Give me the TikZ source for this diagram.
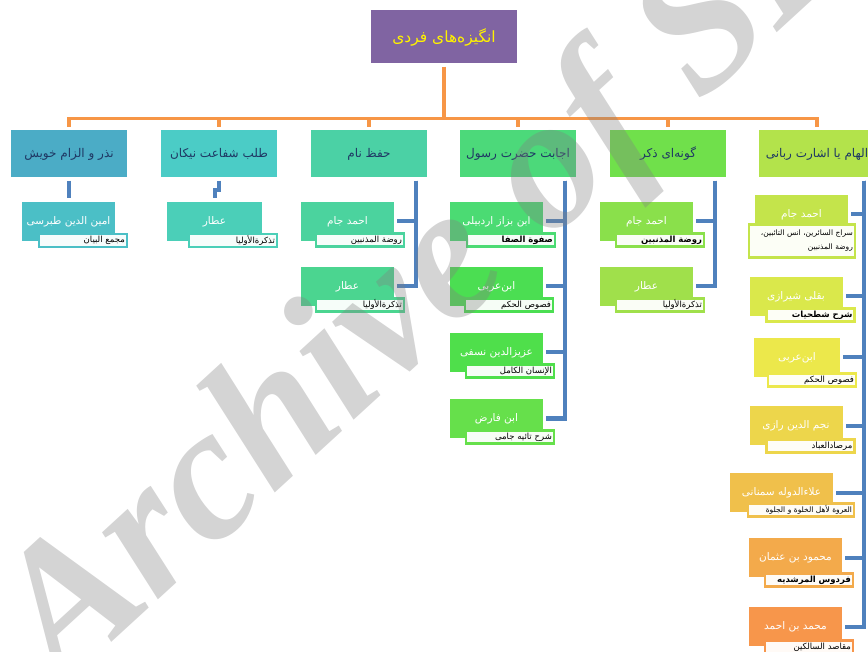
\documentclass[tikz,border=0pt]{standalone}
\usepackage{fontspec}
\newfontfamily\farsi[Script=Arabic]{DejaVu Sans}
\newfontfamily\wmfont{Liberation Serif}
\TeXXeTstate=1
\usetikzlibrary{positioning}
\definecolor{rootpurple}{HTML}{8064A2}
\definecolor{trunkorange}{HTML}{F79646}
\definecolor{twigblue}{HTML}{4F81BD}
\definecolor{headtext}{HTML}{1F3864}
\definecolor{headA}{HTML}{B3E34B}
\definecolor{headB}{HTML}{70E04B}
\definecolor{headC}{HTML}{4CD97A}
\definecolor{headD}{HTML}{4BD1A5}
\definecolor{headE}{HTML}{4BCCC6}
\definecolor{headF}{HTML}{4BACC6}
\definecolor{kidA1}{HTML}{C4E44B}
\definecolor{kidA2}{HTML}{DAE84B}
\definecolor{kidA3}{HTML}{ECE84B}
\definecolor{kidA4}{HTML}{EDD64B}
\definecolor{kidA5}{HTML}{F0C04B}
\definecolor{kidA6}{HTML}{F3AA4B}
\definecolor{kidA7}{HTML}{F7964B}
\definecolor{kidB1}{HTML}{8AE04B}
\definecolor{kidB2}{HTML}{A0E04B}
\definecolor{kidC1}{HTML}{4BDB73}
\definecolor{kidC2}{HTML}{4BDE52}
\definecolor{kidC3}{HTML}{4FDF4B}
\definecolor{kidC4}{HTML}{66E04B}
\definecolor{kidD1}{HTML}{4BD39E}
\definecolor{kidD2}{HTML}{4BD590}
\definecolor{kidE}{HTML}{4BCFB8}
\definecolor{kidF}{HTML}{4BBFC6}
\tikzstyle{trunk} = [trunkorange, line width=3.2pt, line join=miter]
\tikzstyle{twig} = [twigblue, line width=4pt, line join=miter]
\newcommand{\fatext}[1]{{\farsi\beginR #1\endR}}

\begin{document}
\begin{tikzpicture}
  [
    x=1pt, y=-1pt,
    main node/.style={inner sep=2pt, align=center},
    root node/.style={main node, fill=rootpurple, text=yellow, minimum width=146pt, minimum height=53pt, font=\fontsize{15.5}{18}\selectfont},
    head node/.style={main node, fill=#1, text=headtext, minimum width=116pt, minimum height=47pt, font=\fontsize{12}{14}\selectfont},
    kid node/.style={main node, fill=#1, text=white, minimum width=93pt, minimum height=39pt, font=\fontsize{10.5}{12}\selectfont},
    note node/.style={draw=#1, fill=#1!5!white, line width=2.5pt, text=black, anchor=north east, text width=84pt, align=right, minimum height=13pt, inner xsep=2pt, inner ysep=0.5pt, font=\fontsize{8.5}{10}\selectfont},
    watermark/.style={anchor=base west, rotate=42.5, inner sep=0pt, text=black!50, text opacity=0.34, font=\wmfont\bfseries\itshape\fontsize{190}{190}\selectfont},
  ]
  \useasboundingbox (0,0) rectangle (868,652);
  \node [root node] (root) at (444,37) {\fatext{انگیزه‌های فردی}};

  % first row
  \node [head node=headA] (h1) at (817,154) {\fatext{الهام یا اشارت ربانی}};
  \node [head node=headB] (h2) at (668,154) {\fatext{گونه‌ای ذکر}};
  \node [head node=headC] (h3) at (518,154) {\fatext{اجابت حضرت رسول}};
  \node [head node=headD] (h4) at (369,154) {\fatext{حفظ نام}};
  \node [head node=headE] (h5) at (219,154) {\fatext{طلب شفاعت نیکان}};
  \node [head node=headF] (h6) at (69,154) {\fatext{نذر و الزام خویش}};

  \coordinate (fork) at (444,118.5);
  \draw [trunk, shorten <=3pt] (root.south) -- (fork);
  \foreach \h in {h1,h2,h3,h4,h5,h6}
    \draw [trunk, shorten >=3pt] (fork) -| (\h.north);

  % nazr
  \node [kid node=kidF] (c61) at (68.5,222) {\fatext{امین الدین طبرسی}};
  \node [note node=kidF] (n61) at ([xshift=13pt,yshift=9pt]c61.south east) {\fatext{مجمع البیان}};
  \draw [twig, shorten <=3pt, shorten >=4pt] (h6.south) -- ++(0,12) -| (c61.north);

  % shafaat
  \node [kid node=kidE, minimum width=95pt] (c51) at (214.5,222) {\fatext{عطار}};
  \node [note node=kidE] (n51) at ([xshift=16pt,yshift=9pt]c51.south east) {\fatext{تذکرةالأولیا}};
  \draw [twig, shorten <=3pt, shorten >=4pt] (h5.south) -- ++(0,12) -| (c51.north);

  % hefz
  \node [kid node=kidD1] (c41) at (347.5,221.5) {\fatext{احمد جام}};
  \node [note node=kidD1] (n41) at ([xshift=11pt,yshift=9pt]c41.south east) {\fatext{روضة المذنبین}};
  \node [kid node=kidD2] (c42) at (347.5,286.5) {\fatext{عطار}};
  \node [note node=kidD2] (n42) at ([xshift=11pt,yshift=9pt]c42.south east) {\fatext{تذکرةالأولیا}};
  \foreach \c in {c41,c42}
    \draw [twig, shorten <=3pt, shorten >=3pt] ([xshift=-11pt]h4.south east) |- (\c.east);

  % ejabat
  \node [kid node=kidC1] (c31) at (496.5,221.5) {\fatext{ابن بزاز اردبیلی}};
  \node [note node=kidC1] (n31) at ([xshift=13pt,yshift=9pt]c31.south east) {\fatext{\bfseries صفوة الصفا}};
  \node [kid node=kidC2] (c32) at (496.5,286.5) {\fatext{ابن‌عربی}};
  \node [note node=kidC2] (n32) at ([xshift=11pt,yshift=9pt]c32.south east) {\fatext{فصوص الحکم}};
  \node [kid node=kidC3] (c33) at (496.5,352.5) {\fatext{عزیزالدین نسفی}};
  \node [note node=kidC3] (n33) at ([xshift=12pt,yshift=9pt]c33.south east) {\fatext{الإنسان الکامل}};
  \node [kid node=kidC4] (c34) at (496.5,418.5) {\fatext{ابن فارض}};
  \node [note node=kidC4] (n34) at ([xshift=12pt,yshift=9pt]c34.south east) {\fatext{شرح تائیه جامی}};
  \foreach \c in {c31,c32,c33,c34}
    \draw [twig, shorten <=3pt, shorten >=3pt] ([xshift=-11pt]h3.south east) |- (\c.east);

  % zekr
  \node [kid node=kidB1] (c21) at (646.5,221.5) {\fatext{احمد جام}};
  \node [note node=kidB1] (n21) at ([xshift=12pt,yshift=9pt]c21.south east) {\fatext{\bfseries روضة المذنبین}};
  \node [kid node=kidB2] (c22) at (646.5,286.5) {\fatext{عطار}};
  \node [note node=kidB2] (n22) at ([xshift=12pt,yshift=9pt]c22.south east) {\fatext{تذکرةالأولیا}};
  \foreach \c in {c21,c22}
    \draw [twig, shorten <=3pt, shorten >=3pt] ([xshift=-11pt]h2.south east) |- (\c.east);

  % elham
  \node [kid node=kidA1] (c11) at (801.5,214.5) {\fatext{احمد جام}};
  \node [note node=kidA1, text width=102pt, align=right, minimum height=33pt, font=\fontsize{7.5}{14}\selectfont] (n11) at ([xshift=8pt,yshift=11pt]c11.south east) {\fatext{سراج السائرین، انس التائبین،}\\\fatext{روضة المذنبین}};
  \node [kid node=kidA2] (c12) at (796,296.5) {\fatext{بقلی شیرازی}};
  \node [note node=kidA2] (n12) at ([xshift=13pt,yshift=9pt]c12.south east) {\fatext{\bfseries شرح شطحیات}};
  \node [kid node=kidA3, minimum width=86pt] (c13) at (797,357.5) {\fatext{ابن‌عربی}};
  \node [note node=kidA3] (n13) at ([xshift=17pt,yshift=5pt]c13.south east) {\fatext{فصوص الحکم}};
  \node [kid node=kidA4] (c14) at (796,425.5) {\fatext{نجم الدین رازی}};
  \node [note node=kidA4] (n14) at ([xshift=13pt,yshift=7pt]c14.south east) {\fatext{مرصادالعباد}};
  \node [kid node=kidA5, minimum width=103pt] (c15) at (781.5,492.5) {\fatext{علاءالدوله سمنانی}};
  \node [note node=kidA5, text width=102pt, font=\fontsize{7.5}{9}\selectfont] (n15) at ([xshift=22pt,yshift=10pt]c15.south east) {\fatext{العروة لأهل الخلوة و الجلوة}};
  \node [kid node=kidA6] (c16) at (795.5,557.5) {\fatext{محمود بن عثمان}};
  \node [note node=kidA6] (n16) at ([xshift=12pt,yshift=5pt]c16.south east) {\fatext{\bfseries فردوس المرشدیه}};
  \node [kid node=kidA7] (c17) at (795.5,626.5) {\fatext{محمد بن احمد}};
  \node [note node=kidA7] (n17) at ([xshift=12pt,yshift=7pt]c17.south east) {\fatext{مقاصد السالکین}};
  \foreach \c in {c11,c12,c13,c14,c15,c16,c17}
    \draw [twig, shorten <=3pt, shorten >=3pt] ([xshift=-11pt]h1.south east) |- (\c.east);

  \node [watermark] (sid) at (62,688) {Archive of SID};
\end{tikzpicture}
\end{document}
